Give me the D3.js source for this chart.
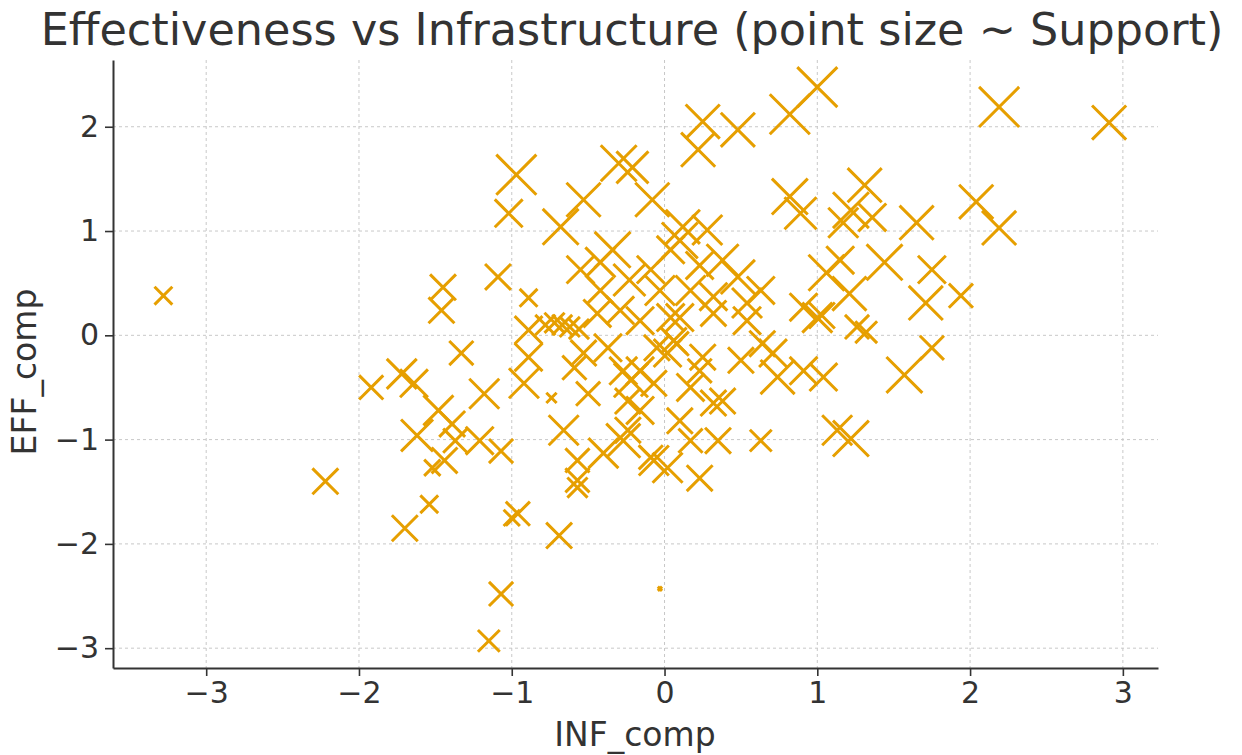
<!DOCTYPE html>
<html>
<head>
<meta charset="utf-8">
<script src="https://cdn.jsdelivr.net/npm/d3@7"></script>
<style>
  body { margin: 0; background: #fff; }
  text { font-family: "DejaVu Sans", sans-serif; fill: #333; }
</style>
</head>
<body>
<svg></svg>
<script>
// composite scores, one entry per unit
const infComp = [-3.28,-2.22,-1.92,-1.72,-1.64,-1.45,-1.46,-1.62,-1.48,-1.44,-1.52,-1.70,-1.54,-1.33,-1.39,-1.21,-1.18,-1.07,-1.37,-1.09,
  -0.89,-1.02,-0.97,-0.96,-1.00,-0.69,-1.07,-1.15,-0.03,-0.89,-0.92,-0.89,-0.78,-0.72,-0.67,-0.62,-0.56,-0.74,-0.59,-0.53,
  -0.50,-0.66,-0.57,-0.57,-0.57,-0.40,-0.27,-0.22,-0.07,0.02,0.23,0.17,0.32,0.02,-0.37,-0.16,-0.27,-0.24,-0.07,-0.24,
  -0.09,-0.44,-0.29,-0.16,0.04,-0.05,0.06,0.10,0.32,0.54,0.64,0.08,0.25,0.38,0.35,0.63,0.71,0.74,0.91,1.04,
  1.57,1.13,1.22,1.26,1.32,1.03,1.75,1.00,0.82,0.48,0.25,0.22,2.19,2.91,2.04,2.19,1.65,1.75,1.94,1.71,
  1.44,1.31,1.22,1.17,1.36,0.82,0.89,1.06,1.15,1.21,0.91,1.00,-0.53,-0.68,-0.30,-0.21,-0.08,-0.34,-0.55,0.12,
  0.10,0.28,0.48,0.32,0.54,0.63,0.38,-0.42,-0.23,-0.09,-0.03,0.17,0.23,-0.42,0.04,-0.16,0.10,0.17,0.23,0.50];
const effComp = [0.38,-1.40,-0.50,-0.37,-0.46,0.46,0.24,-0.96,-0.72,-1.20,-1.27,-1.85,-1.62,-0.17,-0.85,-1.01,-0.56,-1.11,-1.01,0.56,
  0.36,1.17,1.54,-1.71,-1.75,-1.92,-2.48,-2.93,-2.43,-0.21,-0.46,0.05,0.10,0.12,0.10,0.08,0.06,-0.60,-0.31,-0.17,
  -0.56,-0.91,-1.20,-1.46,-1.39,-1.13,-1.01,-0.43,-1.20,-1.27,-1.37,-0.50,-0.65,-0.17,-0.12,-0.34,-0.34,-0.63,-0.46,-0.91,
  -1.17,0.21,0.24,0.14,0.17,-0.12,-0.05,0.17,0.21,0.14,-0.08,-0.08,-0.21,-0.63,-1.01,-1.01,-0.17,-0.40,-0.34,-0.40,
  -0.38,-0.91,-0.99,0.08,0.03,0.19,-0.12,2.38,2.12,1.97,2.05,1.78,2.19,2.04,1.28,1.03,1.08,0.63,0.38,0.31,
  0.70,1.44,1.20,1.08,1.13,1.33,1.17,0.60,0.72,0.40,0.27,0.17,1.30,1.04,1.65,1.61,1.30,0.82,0.63,1.04,
  0.91,1.01,0.56,0.37,0.31,0.43,0.72,0.70,0.53,0.63,0.43,0.43,0.67,0.43,0.82,-0.72,-0.82,-1.01,-0.34,-0.24];
const support = [18,38,33,51,44,38,38,58,51,38,15,38,18,33,38,44,51,33,33,38,
  18,44,91,33,15,38,33,27,1,44,51,44,23,23,23,23,23,6,33,38,
  33,51,33,23,33,51,66,66,51,51,38,44,38,44,44,44,44,38,38,38,
  33,44,44,44,44,38,38,44,38,44,38,33,38,38,38,27,44,66,44,44,
  73,51,73,33,27,38,33,91,91,66,66,66,91,66,66,66,66,44,33,66,
  73,66,73,51,44,73,58,73,44,66,44,51,66,73,73,58,66,73,44,66,
  73,51,66,44,51,44,58,51,58,44,51,51,44,38,44,44,38,33,33,38];
const xTicks = [-3, -2, -1, 0, 1, 2, 3];
const yTicks = [-3, -2, -1, 0, 1, 2];

const svg = d3.select("svg")
  .attr("width", 1242)
  .attr("height", 755);

const margin = {top: 60, right: 84, bottom: 87, left: 113};
const width = +svg.attr("width");
const height = +svg.attr("height");

const x = d3.scaleLinear().domain([-3.61, 3.23]).range([margin.left, width - margin.right]);
const y = d3.scaleLinear().domain([-3.19, 2.64]).range([height - margin.bottom, margin.top]);
const size = d3.scaleSqrt().domain([0, 100]).range([0, 21]);
const fmt = d3.format("d");

const points = infComp.map((d, i) => ({inf: d, eff: effComp[i], sup: support[i]}));

// grid
const grid = svg.append("g").attr("class", "grid");
grid.selectAll(".gx").data(xTicks).enter().append("line")
    .attr("x1", d => x(d)).attr("x2", d => x(d))
    .attr("y1", margin.top).attr("y2", height - margin.bottom)
    .style("stroke", "#c8c8c8").style("stroke-width", 1).style("stroke-dasharray", "3,3");
grid.selectAll(".gy").data(yTicks).enter().append("line")
    .attr("x1", margin.left).attr("x2", width - margin.right)
    .attr("y1", d => y(d)).attr("y2", d => y(d))
    .style("stroke", "#c8c8c8").style("stroke-width", 1).style("stroke-dasharray", "3,3");

// markers
svg.append("g").attr("class", "marks")
  .selectAll("path")
  .data(points)
  .enter()
  .append("path")
    .attr("d", d => {
      const cx = x(d.inf), cy = y(d.eff), r = size(d.sup);
      return `M${cx - r},${cy - r}L${cx + r},${cy + r}M${cx - r},${cy + r}L${cx + r},${cy - r}`;
    })
    .style("fill", "none")
    .style("stroke", "#e69f00")
    .style("stroke-width", 3)
    .style("stroke-linecap", "butt");

// axes
const xAxis = svg.append("g")
  .attr("transform", `translate(0,${height - margin.bottom})`)
  .call(d3.axisBottom(x).tickValues(xTicks).tickFormat(fmt).tickSize(8).tickPadding(6).tickSizeOuter(0));
const yAxis = svg.append("g")
  .attr("transform", `translate(${margin.left},0)`)
  .call(d3.axisLeft(y).tickValues(yTicks).tickFormat(fmt).tickSize(8).tickPadding(6).tickSizeOuter(0));

[xAxis, yAxis].forEach(a => {
  a.select(".domain").style("stroke", "#333").style("stroke-width", 2);
  a.selectAll(".tick line").style("stroke", "#333").style("stroke-width", 1.6);
  a.selectAll(".tick text").style("font-size", "30px").style("font-family", "DejaVu Sans").attr("fill", "#333");
});

svg.append("text")
  .attr("x", 632).attr("y", 45)
  .attr("text-anchor", "middle")
  .style("font-size", "44.5px")
  .text("Effectiveness vs Infrastructure (point size ~ Support)");

svg.append("text")
  .attr("x", 635).attr("y", 746)
  .attr("text-anchor", "middle")
  .style("font-size", "33px")
  .text("INF_comp");

svg.append("text")
  .attr("transform", `translate(36,372) rotate(-90)`)
  .attr("text-anchor", "middle")
  .style("font-size", "33px")
  .text("EFF_comp");
</script>
</body>
</html>
